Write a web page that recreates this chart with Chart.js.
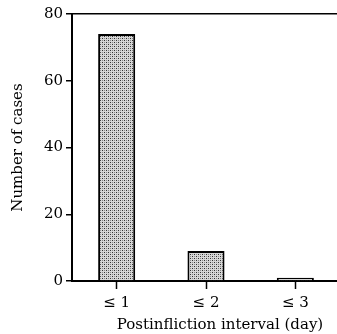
<!DOCTYPE html>
<html>
<head>
<meta charset="utf-8">
<script src="https://cdn.jsdelivr.net/npm/chart.js@4"></script>
<style>
html,body{margin:0;padding:0;background:#fff;overflow:hidden;width:337px;height:334px;}
#wrap{position:relative;width:345px;height:334px;}
</style>
</head>
<body>
<div id="wrap"><canvas id="c" width="345" height="334"></canvas></div>
<script>
const categories = ['≤ 1', '≤ 2', '≤ 3'];
const cases = [74, 9, 1];
const yTicks = [0, 20, 40, 60, 80];
const xTitle = 'Postinfliction interval (day)';
const yTitle = 'Number of cases';

function makePattern() {
  const p = document.createElement('canvas');
  p.width = 4; p.height = 4;
  const g = p.getContext('2d');
  g.fillStyle = '#d6d6d6';
  g.fillRect(0, 0, 4, 4);
  g.fillStyle = '#333';
  g.fillRect(0, 0, 1, 1);
  g.fillRect(2, 2, 1, 1);
  g.fillStyle = '#888';
  g.fillRect(2, 0, 1, 1);
  g.fillRect(0, 2, 1, 1);
  return g.createPattern(p, 'repeat');
}

const font = '"DejaVu Serif", "Liberation Serif", serif';

const xTitlePlugin = {
  id: 'xTitlePlugin',
  afterDraw(chart) {
    const ctx = chart.ctx;
    ctx.save();
    ctx.font = '15px ' + font;
    ctx.fillStyle = '#000';
    ctx.textAlign = 'center';
    ctx.textBaseline = 'middle';
    ctx.fillText(xTitle, 220, 325);
    ctx.restore();
  }
};

new Chart(document.getElementById('c'), {
  type: 'bar',
  data: {
    labels: categories,
    datasets: [{
      data: cases,
      backgroundColor: makePattern(),
      borderColor: '#000',
      borderWidth: 2,
      borderSkipped: 'bottom',
      categoryPercentage: 1,
      barPercentage: 0.415
    }]
  },
  options: {
    responsive: false,
    animation: false,
    devicePixelRatio: 1,
    layout: { padding: { top: 14, right: 5, left: 0, bottom: 0 } },
    plugins: { legend: { display: false }, tooltip: { enabled: false } },
    scales: {
      x: {
        offset: true,
        grid: { offset: false, drawOnChartArea: false, tickLength: 8, tickColor: '#000', tickWidth: 1.5 },
        border: { color: '#000', width: 2 },
        ticks: { color: '#000', font: { family: font, size: 15 }, padding: 5, maxRotation: 0 },
        afterFit(s) { s.height = 53; }
      },
      y: {
        min: 0, max: 80,
        afterBuildTicks(s) { s.ticks = yTicks.map(v => ({ value: v })); },
        grid: {
          color: (c) => (c.tick && c.tick.value === 80 ? '#000' : 'rgba(0,0,0,0)'),
          lineWidth: 1.5,
          tickLength: 6, tickColor: '#000', tickWidth: 1.5
        },
        border: { color: '#000', width: 2 },
        ticks: { color: '#000', font: { family: font, size: 15 }, padding: 3 },
        title: { display: true, text: yTitle, color: '#000', font: { family: font, size: 15 }, padding: { top: 9, bottom: 0 } },
        afterFit(s) { s.width = 72; }
      }
    }
  },
  plugins: [xTitlePlugin]
});
</script>
</body>
</html>
